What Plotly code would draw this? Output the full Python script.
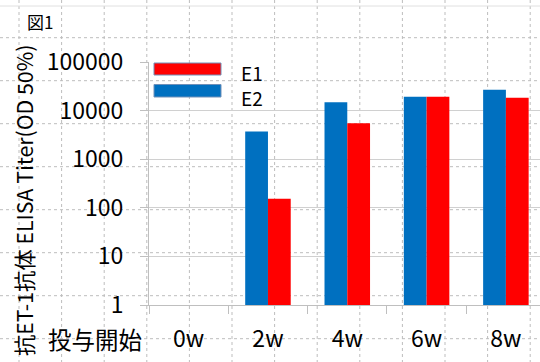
import plotly.graph_objects as go

categories = ["0w", "2w", "4w", "6w", "8w"]
e2_values = [None, 3700, 14800, 19200, 27000]
e1_values = [None, 153, 5500, 19300, 18300]
ytick_vals = [1, 10, 100, 1000, 10000, 100000]
ytick_text = ["1", "10", "100", "1000", "10000", "100000"]

W, H = 540, 362
L, R, T, B = 149, 0, 62, 57
PW, PH = W - L - R, H - T - B

def px(x):
    return (x - L) / PW

def py(y):
    return (H - B - y) / PH

FONT = "Noto Sans CJK JP"
BLUE = "#0070C0"
RED = "#FF0000"

fig = go.Figure()
fig.add_trace(go.Bar(x=categories, y=e2_values, name="E2", marker=dict(color=BLUE, line=dict(width=0))))
fig.add_trace(go.Bar(x=categories, y=e1_values, name="E1", marker=dict(color=RED, line=dict(width=0))))

shapes = []
# background dotted page grid
for k in range(13):
    x = 19 + 42.6 * k
    shapes.append(dict(type="line", xref="paper", yref="paper", x0=px(x), x1=px(x), y0=py(0), y1=py(H),
                       line=dict(color="#bdbdbd", width=1, dash="dot"), layer="below"))
for k in range(8):
    y = 37.7 + 43 * k
    shapes.append(dict(type="line", xref="paper", yref="paper", x0=px(0), x1=px(W), y0=py(y), y1=py(y),
                       line=dict(color="#bdbdbd", width=1, dash="dot"), layer="below"))
shapes.append(dict(type="line", xref="paper", yref="paper", x0=px(0), x1=px(W), y0=py(6), y1=py(6),
                   line=dict(color="#e0e0e0", width=1), layer="below"))
# legend swatches
shapes.append(dict(type="rect", xref="paper", yref="paper", x0=px(154), x1=px(221), y0=py(75), y1=py(63),
                   fillcolor=RED, line=dict(color="#7090b8", width=1), layer="above"))
shapes.append(dict(type="rect", xref="paper", yref="paper", x0=px(154), x1=px(221), y0=py(97), y1=py(84.5),
                   fillcolor=BLUE, line=dict(color="#7090b8", width=1), layer="above"))

annotations = [
    dict(text="E1", x=px(239), y=py(72), xref="paper", yref="paper", xanchor="left", yanchor="middle",
         showarrow=False, font=dict(size=19, color="#000", family=FONT)),
    dict(text="E2", x=px(239), y=py(97), xref="paper", yref="paper", xanchor="left", yanchor="middle",
         showarrow=False, font=dict(size=19, color="#000", family=FONT)),
    dict(text="図1", x=px(25), y=py(21), xref="paper", yref="paper", xanchor="left", yanchor="middle",
         showarrow=False, font=dict(size=17, color="#000", family=FONT)),
    dict(text="投与開始", x=px(94.5), y=py(339), xref="paper", yref="paper", xanchor="center", yanchor="middle",
         showarrow=False, font=dict(size=23.5, color="#000", family=FONT)),
    dict(text="抗ET-1抗体 ELISA Titer(OD 50%)", x=px(23), y=py(201), xref="paper", yref="paper",
         xanchor="center", yanchor="middle", textangle=-90,
         showarrow=False, font=dict(size=21.3, color="#000", family=FONT)),
]

fig.update_layout(
    width=W, height=H,
    margin=dict(l=L, r=R, t=T, b=B, pad=0),
    paper_bgcolor="white", plot_bgcolor="rgba(0,0,0,0)",
    barmode="group", bargap=0.426, bargroupgap=0,
    showlegend=False,
    shapes=shapes, annotations=annotations,
    font=dict(family=FONT, color="#000"),
    xaxis=dict(
        type="category", range=[-0.5, 4.43], showgrid=False,
        showline=True, linecolor="#bfbfbf", linewidth=1,
        ticks="outside", tickson="boundaries", ticklen=8, tickcolor="#bfbfbf",
        tickfont=dict(size=23, family=FONT), ticklabelstandoff=13, automargin=False,
    ),
    yaxis=dict(
        type="log", range=[0, 5], tickvals=ytick_vals, ticktext=ytick_text,
        showgrid=True, gridcolor="#d0d0d0", gridwidth=1,
        showline=True, linecolor="#bfbfbf", linewidth=1,
        ticks="outside", ticklen=8, tickcolor="#bfbfbf",
        tickfont=dict(size=23, family=FONT), ticklabelstandoff=12, automargin=False,
        zeroline=False,
    ),
)

fig.write_html("out.html")
